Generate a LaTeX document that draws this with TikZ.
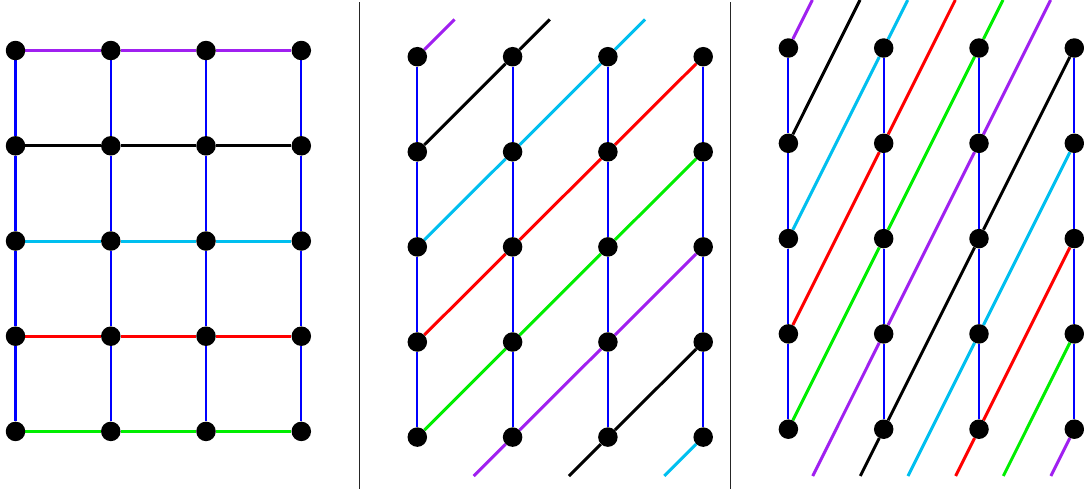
\documentclass[tikz,border=0pt]{standalone}
\definecolor{cpurple}{RGB}{160,32,240}
\definecolor{ccyan}{RGB}{0,191,239}
\definecolor{cgreen}{RGB}{0,238,0}
\definecolor{cred}{RGB}{255,0,0}
\definecolor{cblue}{RGB}{0,0,255}
\pgfdeclarelayer{edges}
\pgfsetlayers{edges,main}
\begin{document}
\begin{tikzpicture}[x=1pt,y=-1pt,
  dot/.style={circle,fill=black,inner sep=0pt,minimum size=19.5pt},
  rung/.style={color=cblue,line width=2.1pt},
  strand/.style={line width=3pt},
  divider/.style={color=black!85,line width=1.4pt}]
\useasboundingbox (0,0) rectangle (1084,491);

% grid points of the three panels
\foreach \cc/\x in {1/15.5,2/110.8,3/206,4/301.3}
  \foreach \rr/\y in {1/50.5,2/145.8,3/241,4/336.2,5/431.4}
    \node[dot] (a\cc\rr) at (\x,\y) {};
\foreach \cc/\x in {1/417.3,2/512.6,3/607.9,4/703.2}
  \foreach \rr/\y in {1/56.7,2/151.8,3/246.9,4/342,5/437.1}
    \node[dot] (b\cc\rr) at (\x,\y) {};
\foreach \cc/\x in {1/788.4,2/883.7,3/979,4/1074.3}
  \foreach \rr/\y in {1/48,2/143.3,3/238.6,4/333.9,5/429.2}
    \node[dot] (c\cc\rr) at (\x,\y) {};

% free ends of the strands
\coordinate (bt1) at (454.5,19.5);
\coordinate (bt2) at (549.8,19.5);
\coordinate (bt3) at (645.1,19.5);
\coordinate (bb1) at (473.7,476);
\coordinate (bb2) at (569,476);
\coordinate (bb3) at (664.3,476);
\coordinate (ct1) at (812.4,0);
\coordinate (ct2) at (860,0);
\coordinate (ct3) at (907.7,0);
\coordinate (ct4) at (955.3,0);
\coordinate (ct5) at (1003,0);
\coordinate (ct6) at (1050.6,0);
\coordinate (cb1) at (812.7,476);
\coordinate (cb2) at (860.3,476);
\coordinate (cb3) at (908,476);
\coordinate (cb4) at (955.6,476);
\coordinate (cb5) at (1003.3,476);
\coordinate (cb6) at (1050.9,476);

% panel dividers
\coordinate (d1t) at (359.3,2);
\coordinate (d1b) at (359.3,489);
\coordinate (d2t) at (730.4,2);
\coordinate (d2b) at (730.4,489);

\begin{pgfonlayer}{edges}
  \draw[divider] (d1t) -- (d1b);
  \draw[divider] (d2t) -- (d2b);

  % vertical rungs
  \draw[rung] (a11) -- (a12) -- (a13) -- (a14) -- (a15);
  \draw[rung] (a21) -- (a22) -- (a23) -- (a24) -- (a25);
  \draw[rung] (a31) -- (a32) -- (a33) -- (a34) -- (a35);
  \draw[rung] (a41) -- (a42) -- (a43) -- (a44) -- (a45);
  \draw[rung] (b11) -- (b12) -- (b13) -- (b14) -- (b15);
  \draw[rung] (b21) -- (b22) -- (b23) -- (b24) -- (b25);
  \draw[rung] (b31) -- (b32) -- (b33) -- (b34) -- (b35);
  \draw[rung] (b41) -- (b42) -- (b43) -- (b44) -- (b45);
  \draw[rung] (c11) -- (c12) -- (c13) -- (c14) -- (c15);
  \draw[rung] (c21) -- (c22) -- (c23) -- (c24) -- (c25);
  \draw[rung] (c31) -- (c32) -- (c33) -- (c34) -- (c35);
  \draw[rung] (c41) -- (c42) -- (c43) -- (c44) -- (c45);

  % left panel: horizontal strands
  \draw[strand,cpurple] (a11) -- (a21) -- (a31) -- (a41);
  \draw[strand,black]   (a12) -- (a22) -- (a32) -- (a42);
  \draw[strand,ccyan]   (a13) -- (a23) -- (a33) -- (a43);
  \draw[strand,cred]    (a14) -- (a24) -- (a34) -- (a44);
  \draw[strand,cgreen]  (a15) -- (a25) -- (a35) -- (a45);

  % middle panel: strands shifted by one row per column
  \draw[strand,cpurple] (b11) -- (bt1);
  \draw[strand,black]   (b12) -- (b21) -- (bt2);
  \draw[strand,ccyan]   (b13) -- (b22) -- (b31) -- (bt3);
  \draw[strand,cred]    (b14) -- (b23) -- (b32) -- (b41);
  \draw[strand,cgreen]  (b15) -- (b24) -- (b33) -- (b42);
  \draw[strand,cpurple] (bb1) -- (b25) -- (b34) -- (b43);
  \draw[strand,black]   (bb2) -- (b35) -- (b44);
  \draw[strand,ccyan]   (bb3) -- (b45);

  % right panel: strands shifted by two rows per column
  \draw[strand,cpurple] (c11) -- (ct1);
  \draw[strand,black]   (c12) -- (ct2);
  \draw[strand,ccyan]   (c13) -- (c21) -- (ct3);
  \draw[strand,cred]    (c14) -- (c22) -- (ct4);
  \draw[strand,cgreen]  (c15) -- (c23) -- (c31) -- (ct5);
  \draw[strand,cpurple] (cb1) -- (c24) -- (c32) -- (ct6);
  \draw[strand,black]   (cb2) -- (c25) -- (c33) -- (c41);
  \draw[strand,ccyan]   (cb3) -- (c34) -- (c42);
  \draw[strand,cred]    (cb4) -- (c35) -- (c43);
  \draw[strand,cgreen]  (cb5) -- (c44);
  \draw[strand,cpurple] (cb6) -- (c45);
\end{pgfonlayer}
\end{tikzpicture}
\end{document}
